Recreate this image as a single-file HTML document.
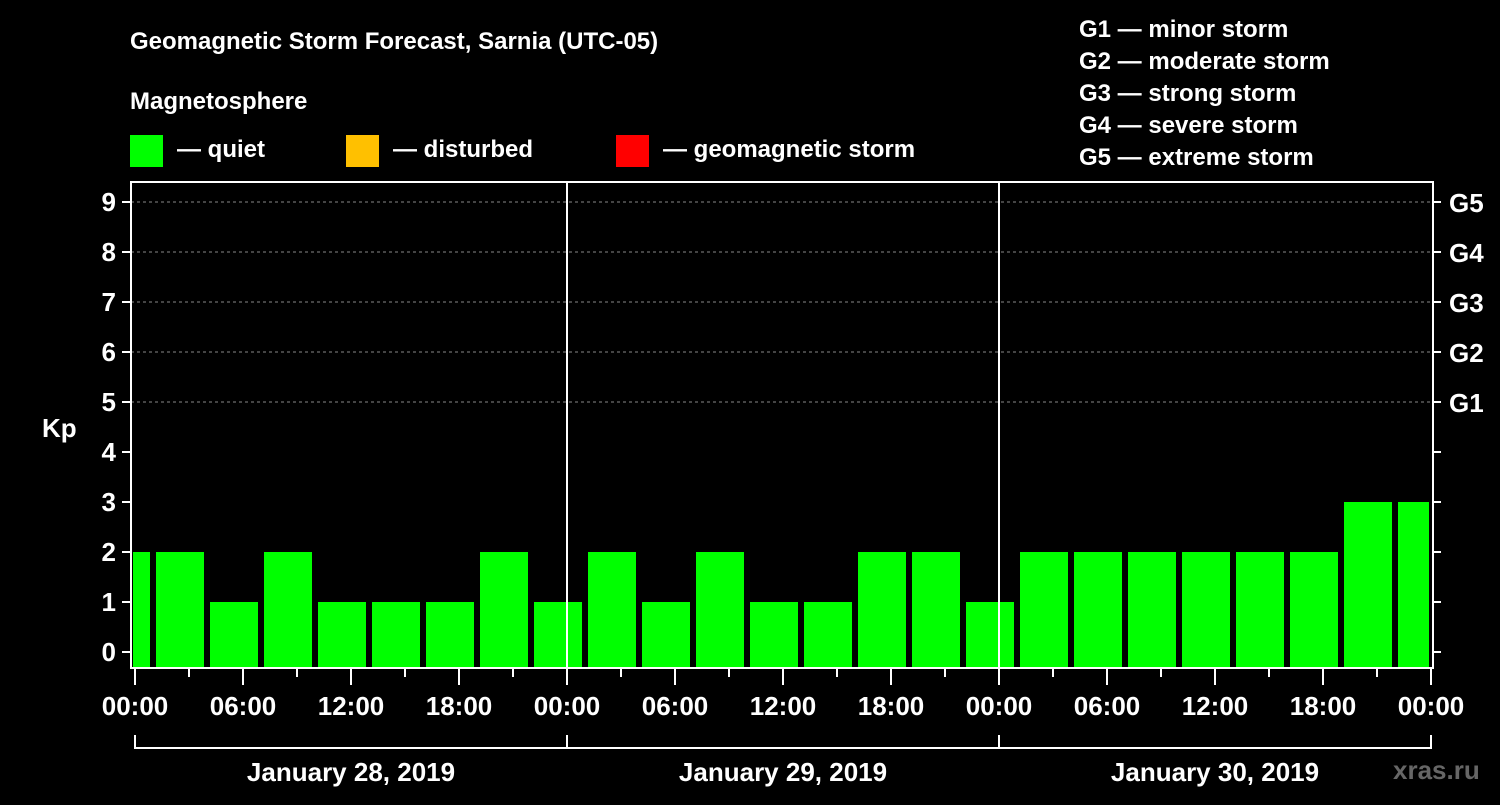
<!DOCTYPE html>
<html><head><meta charset="utf-8"><style>
body{margin:0;background:#000;}
svg text{font-family:"Liberation Sans",Arial,sans-serif;font-weight:bold;fill:#fff;}
</style></head><body>
<svg id="chart" width="1500" height="800" viewBox="0 0 1500 800">
<rect width="1500" height="800" fill="#000"/>
<defs><clipPath id="pc"><rect x="133" y="182" width="1296" height="486"/></clipPath></defs>
<text x="130" y="49" font-size="24">Geomagnetic Storm Forecast, Sarnia (UTC-05)</text>
<text x="130" y="109" font-size="24">Magnetosphere</text>
<g><rect x="130" y="135" width="33" height="32" fill="#00ff00"/><text x="177" y="157" font-size="24">— quiet</text></g>
<g><rect x="346" y="135" width="33" height="32" fill="#ffc000"/><text x="393" y="157" font-size="24">— disturbed</text></g>
<g><rect x="616" y="135" width="33" height="32" fill="#ff0000"/><text x="663" y="157" font-size="24">— geomagnetic storm</text></g>
<g font-size="24">
<text x="1079" y="37">G1 — minor storm</text><text x="1079" y="69">G2 — moderate storm</text><text x="1079" y="101">G3 — strong storm</text><text x="1079" y="133">G4 — severe storm</text><text x="1079" y="165">G5 — extreme storm</text>
</g>
<text x="42" y="437" font-size="26">Kp</text>
<g id="grid"></g><g id="bars" clip-path="url(#pc)"></g><g id="axes"></g>
<text x="1393" y="779" font-size="26" fill="#666" style="fill:#666">xras.ru</text>
</svg>
<script>
const kpValues=[2,2,1,2,1,1,1,2,1,2,1,2,1,1,2,2,1,2,2,2,2,2,2,3,3];
const yTicks=[0,1,2,3,4,5,6,7,8,9];
const gLabels=["G1","G2","G3","G4","G5"];
const gLevels=[5,6,7,8,9];
const dayLabels=["January 28, 2019","January 29, 2019","January 30, 2019"];
const hourLabels=["00:00","06:00","12:00","18:00"];
const NS="http://www.w3.org/2000/svg";
const y=v=>652-v*50;
const xh=h=>135+h*18; // hours from start
function mk(p,tag,a){const e=document.createElementNS(NS,tag);for(const k in a)e.setAttribute(k,a[k]);p.appendChild(e);return e;}
const grid=document.getElementById('grid'),bars=document.getElementById('bars'),axes=document.getElementById('axes');
gLevels.forEach((g,i)=>{
const l=mk(grid,'line',{x1:131,x2:1433,y1:y(g),y2:y(g),stroke:'#888','stroke-dasharray':'3,3'});


const t=mk(axes,'text',{x:1449,y:y(g)+10,'font-size':26});t.textContent=gLabels[i];


});
kpValues.forEach((v,i)=>{
const x0=xh(-3+i*3)+21;
const r=mk(bars,'rect',{x:x0,y:y(v),width:48,height:668-y(v),fill:'#00ff00'});


});
mk(axes,'line',{x1:131,x2:131,y1:182,y2:669,stroke:'#fff','stroke-width':2});
mk(axes,'line',{x1:130,x2:1434,y1:668,y2:668,stroke:'#fff','stroke-width':2});
mk(axes,'line',{x1:1433,x2:1433,y1:182,y2:669,stroke:'#fff','stroke-width':2});
mk(axes,'line',{x1:130,x2:1434,y1:182,y2:182,stroke:'#fff','stroke-width':2});
[1,2].forEach(d=>mk(axes,'line',{x1:xh(d*24),x2:xh(d*24),y1:182,y2:668,stroke:'#fff','stroke-width':2}));
yTicks.forEach(v=>{
mk(axes,'line',{x1:122,x2:131,y1:y(v),y2:y(v),stroke:'#fff','stroke-width':2});
mk(axes,'line',{x1:1433,x2:1441,y1:y(v),y2:y(v),stroke:'#fff','stroke-width':2});
const t=mk(axes,'text',{x:116,y:y(v)+9,'font-size':26,'text-anchor':'end'});t.textContent=v;


});
for(let h=0;h<=72;h+=3){
const major=h%6==0;
mk(axes,'line',{x1:xh(h),x2:xh(h),y1:669,y2:major?685:677,stroke:'#fff','stroke-width':2});
if(major){const t=mk(axes,'text',{x:xh(h),y:715,'font-size':26,'text-anchor':'middle'});t.textContent=hourLabels[(h/6)%4];

}
}
mk(axes,'line',{x1:xh(0),x2:xh(72),y1:748,y2:748,stroke:'#fff','stroke-width':2});
for(let d=0;d<=3;d++)mk(axes,'line',{x1:xh(d*24),x2:xh(d*24),y1:735,y2:749,stroke:'#fff','stroke-width':2});
dayLabels.forEach((s,d)=>{const t=mk(axes,'text',{x:xh(d*24+12),y:781,'font-size':26,'text-anchor':'middle'});t.textContent=s;

});
</script>
</body></html>
